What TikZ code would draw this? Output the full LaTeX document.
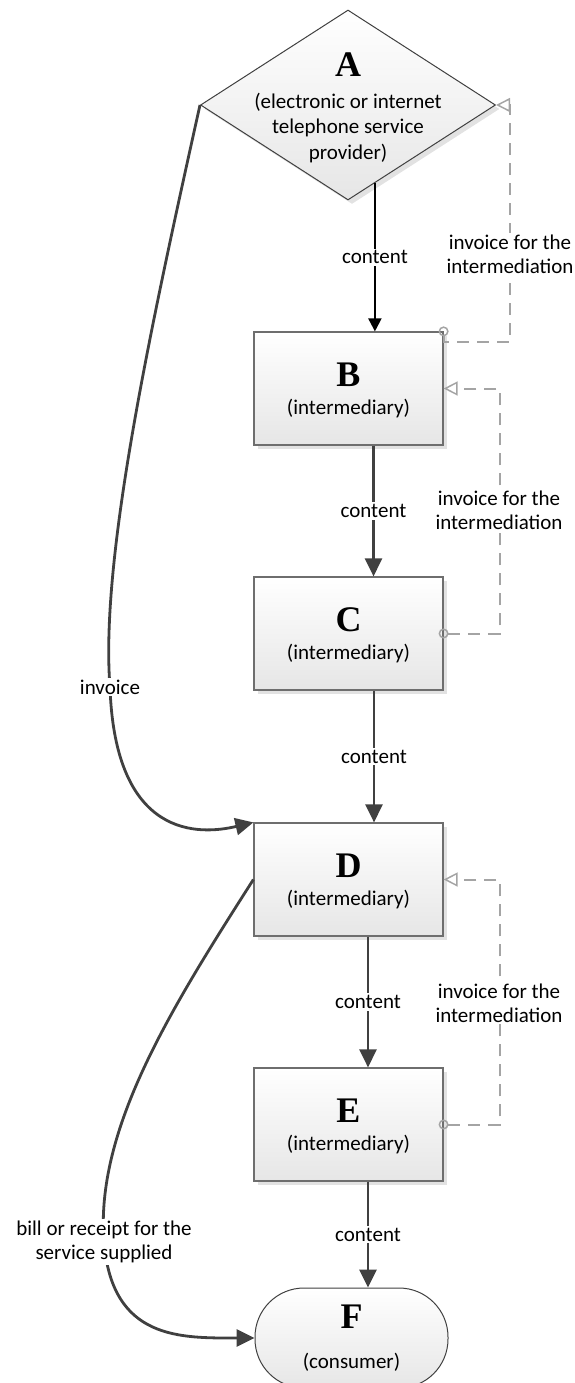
\documentclass[tikz,border=0pt]{standalone}
\usepackage{fontspec}
\setmainfont{Carlito}
\newfontfamily\letterfont{Liberation Serif}
\usetikzlibrary{arrows.meta,shapes.geometric,shadows}

\definecolor{linedark}{HTML}{404040}
\definecolor{dashgray}{HTML}{A4A4A4}
\definecolor{boxedge}{HTML}{6E6E6E}
\definecolor{boxlow}{HTML}{E6E6E6}
\definecolor{shadowgray}{HTML}{E2E2E2}

\newcommand{\bodysize}{\fontsize{21}{24}\selectfont}

\tikzset{
  boxshadow/.style={drop shadow={shadow xshift=4pt, shadow yshift=-4pt, fill=shadowgray, opacity=1}},
  ibox/.style={rectangle, draw=boxedge, line width=1.2pt, top color=white, bottom color=boxlow,
    minimum width=189pt, minimum height=113pt, inner sep=0pt, boxshadow},
  provider/.style={diamond, aspect=1.55, draw=linedark, line width=1pt, top color=white, bottom color=boxlow,
    minimum width=295pt, minimum height=190pt, inner sep=0pt, boxshadow},
  consumer/.style={rectangle, rounded corners=49pt, draw=linedark, line width=1pt, top color=white,
    bottom color=boxlow, minimum width=193pt, minimum height=100pt, inner sep=0pt},
  letter/.style={anchor=base, inner sep=0pt, font=\letterfont\bfseries\fontsize{36}{40}\selectfont},
  role/.style={anchor=base, inner sep=0pt, font=\bodysize},
  lab/.style={fill=white, inner sep=2pt, align=center, font=\bodysize},
  flow/.style={draw=linedark, line width=2.8pt, -{Triangle[length=18pt,width=17pt]}},
  flowtop/.style={draw=black, line width=2pt, -{Triangle[length=13pt,width=13pt]}},
  invline/.style={draw=dashgray, line width=2pt, dash pattern=on 12pt off 8pt, shorten <=-5pt,
    {Circle[open,length=10pt,width=10pt,line width=1.5pt]}-{Triangle[open,length=14pt,width=14pt,line width=1.5pt]}},
}

\begin{document}
\begin{tikzpicture}[x=1pt,y=-1pt]
\useasboundingbox (0,0) rectangle (575,1383);

% provider
\node[provider] (A) at (348,105) {};
\node[letter] (A-l) at (348,77) {A};
\node[lab, fill=none, inner sep=0pt, font=\fontsize{21}{25.5}\selectfont] (A-r) at (348,128)
  {(electronic or internet\\telephone service\\provider)};

% intermediaries
\foreach \n/\y in {B/388.5,C/633.5,D/879.5,E/1124.5}{
  \node[ibox] (\n) at (348.5,\y) {};
  \node[letter] (\n-l) at ([yshift=-55pt]\n.north) {\n};
  \node[role] (\n-r) at ([yshift=-83pt]\n.north) {(intermediary)};
}

% consumer
\node[consumer] (F) at (351.5,1338) {};
\node[letter] (F-l) at (351.5,1328) {F};
\node[role] (F-r) at (351.5,1368) {(consumer)};

% content
\draw[flowtop] (A.-71) -- (A.-71 |- B.north) node[midway, lab] (c-A) {content};
\foreach \a/\b/\s in {B/C/25,C/D/25.5,D/E/19.5,E/F/19.5}
  \draw[flow] ([xshift=\s]\a.south) -- ([xshift=\s]\a.south |- \b.north)
    node[midway, lab] (c-\a) {content};

% invoices for the intermediation
\coordinate (jB) at (510,342);
\draw[invline] (B.north east) |- (jB) |- (A.east);
\node[lab] (inv-B) at (510,254) {invoice for the\\intermediation};
\draw[invline] (C.east) -- ++(56,0) |- (B.east);
\node[lab] (inv-C) at (499,510) {invoice for the\\intermediation};
\draw[invline] (E.east) -- ++(56,0) |- (D.east);
\node[lab] (inv-E) at (499,1003) {invoice for the\\intermediation};

% invoice and bill
\draw[flow] (A.west) .. controls (150,330) and (100,560) .. (110,687) node[lab] (inv-A) {invoice}
  .. controls (115,840) and (200,835) .. (D.north west);
\draw[flow] (D.west) .. controls (170,1010) and (95,1130) .. (104,1242)
  node[lab] (bill) {bill or receipt for the\\service supplied}
  .. controls (112,1340) and (180,1338) .. (F.west);

\end{tikzpicture}
\end{document}
